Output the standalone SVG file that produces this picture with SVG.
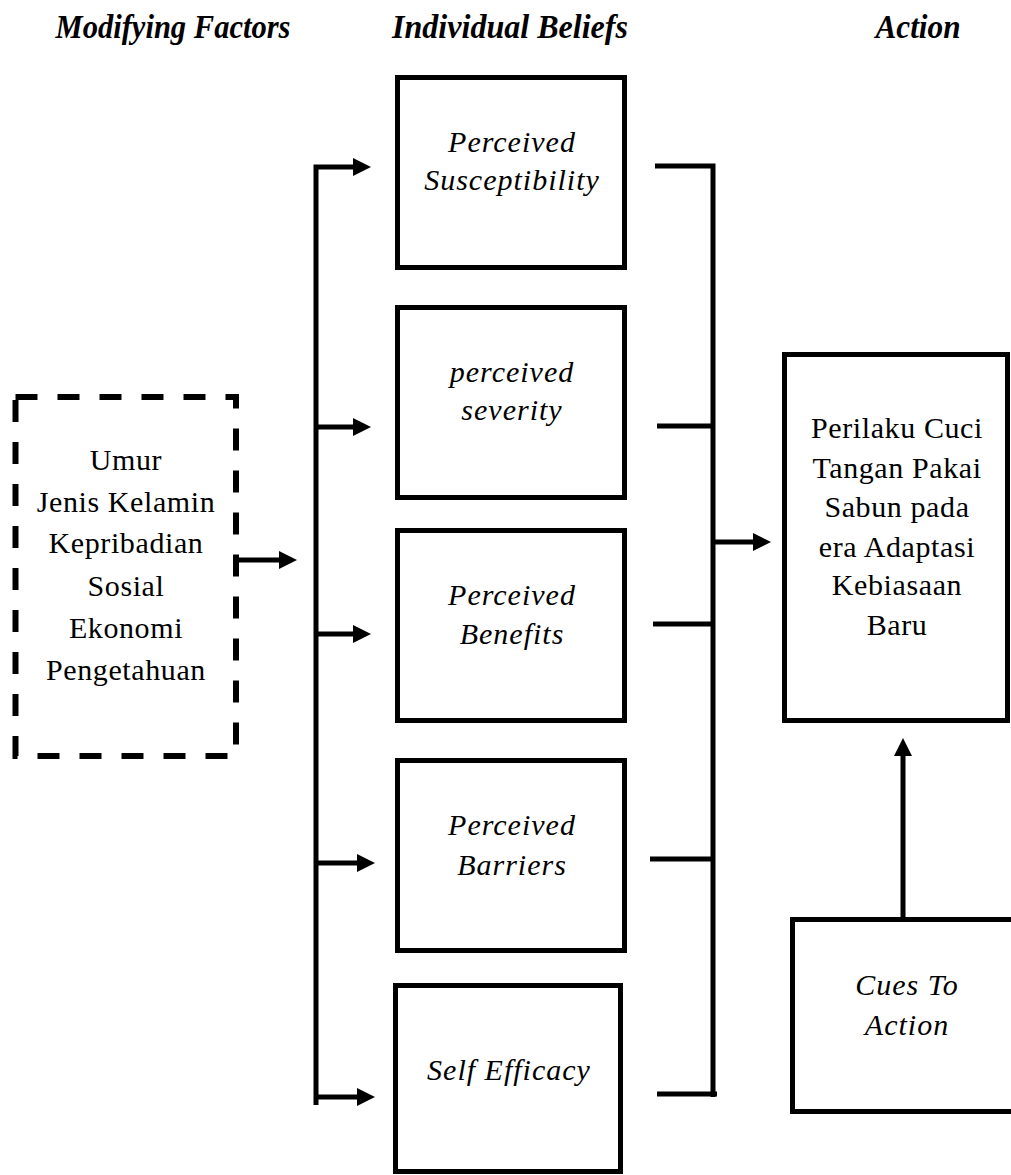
<svg xmlns="http://www.w3.org/2000/svg" width="1011" height="1175" viewBox="0 0 1011 1175">
<style>
.box{fill:#fff;stroke:#000;stroke-width:5}
.dash{fill:#fff;stroke:#000;stroke-width:6;stroke-dasharray:22 20}
.ln{fill:none;stroke:#000;stroke-width:5}
.ah{fill:#000;stroke:none}
.hd{font-family:"Liberation Serif","Times New Roman",serif;font-weight:bold;font-style:italic;font-size:34px;text-anchor:middle}
.it{font-family:"Liberation Serif","Times New Roman",serif;font-style:italic;font-size:30px;letter-spacing:1px;text-anchor:middle}
.rg{font-family:"Liberation Serif","Times New Roman",serif;font-size:30px;letter-spacing:0.6px;text-anchor:middle}
</style>
<defs>
<path id="arR" class="ah" d="M0,0 L-18,-9 L-18,9 Z"/>
</defs>
<rect width="1011" height="1175" fill="#fff"/>
<g id="headers">
<text class="hd" x="173" y="38" textLength="235" lengthAdjust="spacingAndGlyphs">Modifying Factors</text>
<text class="hd" x="510" y="38" textLength="236" lengthAdjust="spacingAndGlyphs">Individual Beliefs</text>
<text class="hd" x="918" y="38" textLength="85" lengthAdjust="spacingAndGlyphs">Action</text>
</g>
<g id="connectors">
<line class="ln" x1="239" y1="560" x2="281" y2="560"/>
<use href="#arR" x="297" y="560"/>
<polyline class="ln" points="316,1105 316,167 355,167"/>
<use href="#arR" x="371" y="167"/>
<line class="ln" x1="316" y1="427" x2="355" y2="427"/>
<use href="#arR" x="371" y="427"/>
<line class="ln" x1="316" y1="634" x2="355" y2="634"/>
<use href="#arR" x="371" y="634"/>
<line class="ln" x1="316" y1="863" x2="359" y2="863"/>
<use href="#arR" x="375" y="863"/>
<line class="ln" x1="316" y1="1097" x2="359" y2="1097"/>
<use href="#arR" x="375" y="1097"/>
<polyline class="ln" points="655,166 713,166 713,1097"/>
<line class="ln" x1="657" y1="426" x2="713" y2="426"/>
<line class="ln" x1="653" y1="624" x2="713" y2="624"/>
<line class="ln" x1="650" y1="859" x2="713" y2="859"/>
<line class="ln" x1="657" y1="1094" x2="717" y2="1094"/>
<line class="ln" x1="713" y1="542" x2="754" y2="542"/>
<use href="#arR" x="771" y="542"/>
<line class="ln" x1="903" y1="919" x2="903" y2="754"/>
<use href="#arR" transform="translate(903,738) rotate(-90)"/>
</g>
<g id="modifying-factors">
<rect class="dash" x="15.5" y="397" width="220.5" height="359"/>
<text class="rg" x="126" y="470">Umur</text>
<text class="rg" x="126" y="512">Jenis Kelamin</text>
<text class="rg" x="126" y="553">Kepribadian</text>
<text class="rg" x="126" y="596">Sosial</text>
<text class="rg" x="126" y="638">Ekonomi</text>
<text class="rg" x="126" y="680">Pengetahuan</text>
</g>
<g id="susceptibility">
<rect class="box" x="397.5" y="77.5" width="227" height="190"/>
<text class="it" x="512" y="152">Perceived</text>
<text class="it" x="512" y="190">Susceptibility</text>
</g>
<g id="severity">
<rect class="box" x="397.5" y="307.5" width="227" height="190"/>
<text class="it" x="512" y="382">perceived</text>
<text class="it" x="512" y="420">severity</text>
</g>
<g id="benefits">
<rect class="box" x="397.5" y="530.5" width="227" height="190"/>
<text class="it" x="512" y="605">Perceived</text>
<text class="it" x="512" y="644">Benefits</text>
</g>
<g id="barriers">
<rect class="box" x="397.5" y="760.5" width="227" height="190"/>
<text class="it" x="512" y="835">Perceived</text>
<text class="it" x="512" y="875">Barriers</text>
</g>
<g id="self-efficacy">
<rect class="box" x="395.5" y="985.5" width="225" height="186"/>
<text class="it" x="509" y="1080">Self Efficacy</text>
</g>
<g id="action">
<rect class="box" x="784.5" y="354.5" width="223" height="366"/>
<text class="rg" x="897" y="438">Perilaku Cuci</text>
<text class="rg" x="897" y="478">Tangan Pakai</text>
<text class="rg" x="897" y="517">Sabun pada</text>
<text class="rg" x="897" y="557">era Adaptasi</text>
<text class="rg" x="897" y="595">Kebiasaan</text>
<text class="rg" x="897" y="635">Baru</text>
</g>
<g id="cues-to-action">
<rect class="box" x="792.5" y="919.5" width="230" height="192"/>
<text class="it" x="907" y="995">Cues To</text>
<text class="it" x="907" y="1035">Action</text>
</g>
</svg>
